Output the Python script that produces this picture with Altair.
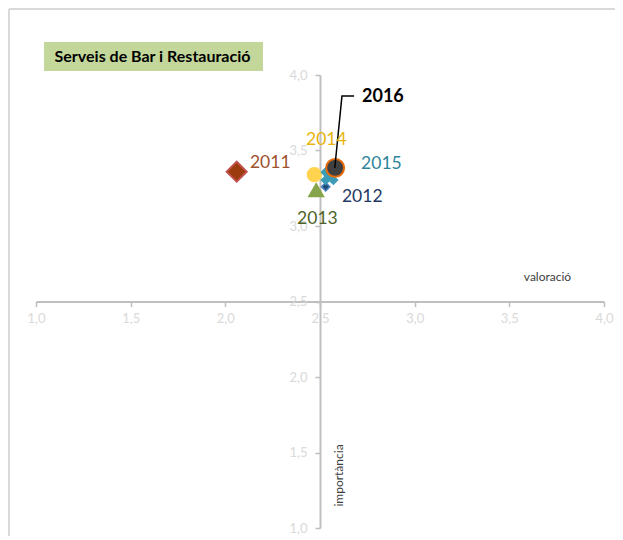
import altair as alt
import pandas as pd

# ---- data ----
years = ["2011", "2012", "2014", "2013", "2015", "2016"]
valoracio = [2.06, 2.53, 2.47, 2.48, 2.55, 2.58]
importancia = [3.36, 3.26, 3.34, 3.24, 3.33, 3.385]

marker_shape = ["diamond", "diamond", "circle", "triangle-up", "cross", "circle"]
marker_size = [400, 70, 230, 300, 340, 320]
marker_fill = ["#9C3B0E", "#1F4E79", "#FFD34E", "#86A44A", "#3C9CB5", "#404040"]
marker_stroke = ["#C0504D", "#4F81BD", "#FFD34E", "#86A44A", "#3C9CB5", "#E46C0A"]
marker_sw = [2, 1.5, 0, 0, 0, 2]
marker_angle = [0, 0, 0, 0, 45, 0]

label_text = ["2011", "2012", "2014", "2013", "2015"]
label_x = [2.13, 2.616, 2.426, 2.379, 2.717]
label_y = [3.417, 3.192, 3.570, 3.046, 3.411]
label_color = ["#A0522D", "#1F3864", "#E6B40A", "#4F6228", "#31849B"]

lead_x = [2.578, 2.616, 2.68]
lead_y = [3.384, 3.861, 3.861]
label2016 = "2016"
label2016_x = 2.722
label2016_y = 3.855

ticks = [1.0, 1.5, 2.0, 2.5, 3.0, 3.5, 4.0]
title_text = "Serveis de Bar i Restauració"

W, H = 568, 453
FONT = "Lato"

xscale = alt.Scale(domain=[1, 4], nice=False, zero=False)
yscale = alt.Scale(domain=[1, 4], nice=False, zero=False)
lab_expr = "replace(format(datum.value, '.1f'), '.', ',')"

x_axis = alt.Axis(
    values=ticks, labelExpr=lab_expr, offset=-H / 2, grid=False,
    domainColor="#BFBFBF", domainWidth=2, tickColor="#BFBFBF", tickWidth=1.5,
    tickSize=5, labelColor="#D9D9D9", labelFontSize=13, labelFont=FONT,
    labelPadding=6, labelFlush=False, labelOverlap=False,
    title="valoració", titleX=511, titleY=-25, titleAlign="center",
    titleBaseline="middle", titleAngle=0, titleColor="#404040",
    titleFontSize=12, titleFontWeight="normal", titleFont=FONT,
)
y_axis = alt.Axis(
    values=ticks, labelExpr=lab_expr, offset=-(W / 2), grid=False,
    domainColor="#BFBFBF", domainWidth=2, tickColor="#BFBFBF", tickWidth=1.5,
    tickSize=5, labelColor="#D9D9D9", labelFontSize=13, labelFont=FONT,
    labelPadding=8, labelFlush=False, labelOverlap=False,
    title="importància", titleX=18, titleY=400, titleAngle=270,
    titleAlign="center", titleBaseline="middle", titleColor="#404040",
    titleFontSize=12, titleFontWeight="normal", titleFont=FONT,
)

base_df = pd.DataFrame({"v": valoracio, "i": importancia, "year": years})

# axes layer (invisible points just to carry axes)
axes_layer = alt.Chart(base_df).mark_point(opacity=0).encode(
    x=alt.X("v:Q", scale=xscale, axis=x_axis),
    y=alt.Y("i:Q", scale=yscale, axis=y_axis),
)

layers = [axes_layer]

# frame lines (decorative border)
dummy = pd.DataFrame({"a": [0]})
layers.append(alt.Chart(dummy).mark_rule(color="#D9D9D9", strokeWidth=2).encode(
    x=alt.value(-27), x2=alt.value(W + 11), y=alt.value(-66)))
layers.append(alt.Chart(dummy).mark_rule(color="#D9D9D9", strokeWidth=2).encode(
    x=alt.value(-27), y=alt.value(-66), y2=alt.value(H + 8)))

# title box
layers.append(alt.Chart(dummy).mark_rect(color="#C4D79B").encode(
    x=alt.value(8), x2=alt.value(227), y=alt.value(-33), y2=alt.value(-4)))
layers.append(alt.Chart(dummy).mark_text(
    text=title_text, font=FONT, fontSize=16, fontWeight="bold", color="#000000",
    align="center", baseline="middle").encode(x=alt.value(116.5), y=alt.value(-18.5)))

# markers
for k in range(len(years)):
    d = pd.DataFrame({"v": [valoracio[k]], "i": [importancia[k]]})
    layers.append(alt.Chart(d).mark_point(
        filled=True, shape=marker_shape[k], size=marker_size[k],
        fill=marker_fill[k], stroke=marker_stroke[k], strokeWidth=marker_sw[k],
        angle=marker_angle[k], opacity=1,
    ).encode(x=alt.X("v:Q", scale=xscale), y=alt.Y("i:Q", scale=yscale)))

# leader line for 2016
lead_df = pd.DataFrame({"v": lead_x, "i": lead_y, "o": list(range(len(lead_x)))})
layers.append(alt.Chart(lead_df).mark_line(color="#000000", strokeWidth=1.5).encode(
    x=alt.X("v:Q", scale=xscale), y=alt.Y("i:Q", scale=yscale), order="o:O"))

# year labels
for k in range(len(label_text)):
    d = pd.DataFrame({"v": [label_x[k]], "i": [label_y[k]], "t": [label_text[k]]})
    layers.append(alt.Chart(d).mark_text(
        font=FONT, fontSize=17.5, color=label_color[k], align="left", baseline="middle",
    ).encode(x=alt.X("v:Q", scale=xscale), y=alt.Y("i:Q", scale=yscale), text="t:N"))

d16 = pd.DataFrame({"v": [label2016_x], "i": [label2016_y], "t": [label2016]})
layers.append(alt.Chart(d16).mark_text(
    font=FONT, fontSize=18, fontWeight="bold", color="#000000", align="left",
    baseline="middle").encode(x=alt.X("v:Q", scale=xscale), y=alt.Y("i:Q", scale=yscale), text="t:N"))

chart = alt.layer(*layers).properties(
    width=W, height=H,
    background="#FFFFFF",
    autosize=alt.AutoSizeParams(type="none"),
    padding={"left": 28, "top": 67, "right": 11, "bottom": 8},
).configure_view(stroke="transparent", strokeWidth=0)

chart.save("out.html", embed_options={"renderer": "svg", "actions": False})
